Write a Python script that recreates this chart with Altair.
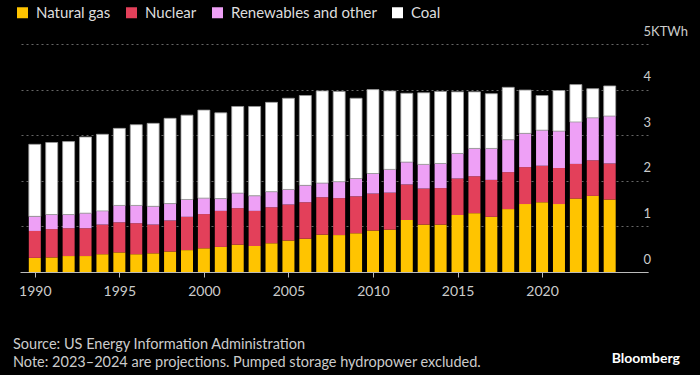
import altair as alt
import pandas as pd

years = list(range(1990, 2025))
gas = [0.31, 0.32, 0.35, 0.35, 0.39, 0.43, 0.39, 0.41, 0.45, 0.48, 0.52, 0.55, 0.60, 0.57, 0.63,
       0.69, 0.73, 0.82, 0.81, 0.85, 0.91, 0.93, 1.14, 1.04, 1.04, 1.25, 1.29, 1.21, 1.38, 1.49,
       1.53, 1.49, 1.61, 1.67, 1.59]
nuclear = [0.59, 0.62, 0.61, 0.61, 0.65, 0.66, 0.68, 0.63, 0.68, 0.73, 0.75, 0.79, 0.80, 0.77, 0.79,
           0.79, 0.80, 0.82, 0.81, 0.81, 0.81, 0.81, 0.78, 0.79, 0.80, 0.80, 0.81, 0.81, 0.81, 0.81,
           0.80, 0.79, 0.76, 0.78, 0.79]
renewables = [0.32, 0.32, 0.30, 0.33, 0.30, 0.37, 0.39, 0.40, 0.37, 0.38, 0.35, 0.27, 0.33, 0.33, 0.34,
              0.33, 0.37, 0.31, 0.36, 0.39, 0.44, 0.51, 0.49, 0.53, 0.54, 0.55, 0.61, 0.69, 0.71, 0.74,
              0.78, 0.81, 0.92, 0.93, 1.04]
coal = [1.58, 1.58, 1.60, 1.67, 1.68, 1.69, 1.77, 1.82, 1.87, 1.85, 1.93, 1.88, 1.90, 1.96, 1.96,
        2.00, 1.97, 2.02, 1.98, 1.76, 1.84, 1.72, 1.51, 1.57, 1.58, 1.35, 1.24, 1.20, 1.15, 0.95,
        0.76, 0.89, 0.82, 0.64, 0.66]

sources = ["Natural gas", "Nuclear", "Renewables and other", "Coal"]
colors = ["#FFC400", "#E3405A", "#EEA0F6", "#FFFFFF"]
x_ticks = [1990, 1995, 2000, 2005, 2010, 2015, 2020]
y_ticks = [0, 1, 2, 3, 4, 5]
source_note = "Source: US Energy Information Administration"
note = "Note: 2023\u20132024 are projections. Pumped storage hydropower excluded."

rows = []
for series_i, (name, vals) in enumerate(zip(sources, [gas, nuclear, renewables, coal])):
    for y, v in zip(years, vals):
        rows.append({"year": y, "source": name, "value": v, "ord": series_i})
df = pd.DataFrame(rows)

FONT = "Lato"

bars = alt.Chart(df).mark_bar(size=12).encode(
    x=alt.X("year:Q",
            scale=alt.Scale(domain=[1989.42, 2025.97], nice=False, zero=False),
            axis=alt.Axis(values=x_ticks, format="d", title=None, grid=False,
                          domainColor="#BBBBBB", tickColor="#BBBBBB", tickSize=5,
                          labelColor="#CCCCCC", labelFontSize=14, labelFont=FONT,
                          labelPadding=7)),
    y=alt.Y("value:Q", stack="zero",
            scale=alt.Scale(domain=[0, 5], nice=False),
            axis=alt.Axis(orient="right", values=y_ticks, title=None, ticks=False, domain=False,
                          grid=True, gridColor="#666666", gridDash=[2, 3], gridWidth=1,
                          labelColor="#CCCCCC", labelFontSize=13, labelFont=FONT,
                          labelAlign="left", labelBaseline="alphabetic", labelPadding=-5,
                          labelOffset=-9,
                          labelExpr="datum.value == 5 ? '5KTWh' : datum.label")),
    color=alt.Color("source:N",
                    scale=alt.Scale(domain=sources, range=colors),
                    legend=alt.Legend(orient="none", legendX=-5, legendY=-39, direction="horizontal",
                                      title=None, symbolType="square", symbolSize=121,
                                      symbolStrokeWidth=0, labelColor="#DDDDDD", labelFontSize=15,
                                      labelFont=FONT, labelOffset=6, columnPadding=13, padding=0)),
    order=alt.Order("ord:Q", sort="ascending"),
    stroke=alt.condition(alt.datum.source == "Coal", alt.value("#999999"), alt.value("transparent")),
    strokeWidth=alt.value(0.8),
)

foot = pd.DataFrame({"a": [0]})
t1 = alt.Chart(foot).mark_text(align="left", baseline="alphabetic", fontSize=14.5, font=FONT,
                               color="#CCCCCC").encode(
    x=alt.value(-7), y=alt.value(305), text=alt.value(source_note))
t2 = alt.Chart(foot).mark_text(align="left", baseline="alphabetic", fontSize=14.5, font=FONT,
                               color="#CCCCCC").encode(
    x=alt.value(-7), y=alt.value(322.5), text=alt.value(note))
t3 = alt.Chart(foot).mark_text(align="right", baseline="alphabetic", fontSize=14, font=FONT,
                               fontWeight="bold", color="#FFFFFF").encode(
    x=alt.value(660), y=alt.value(319), text=alt.value("Bloomberg"))

chart = alt.layer(bars, t1, t2, t3).properties(
    width=628, height=228,
    background="#000000",
    autosize=alt.AutoSizeParams(type="none"),
    padding={"left": 20, "top": 44, "right": 52, "bottom": 103},
).configure_view(stroke=None)

chart.save("out.html", embed_options={"renderer": "svg", "actions": False})
